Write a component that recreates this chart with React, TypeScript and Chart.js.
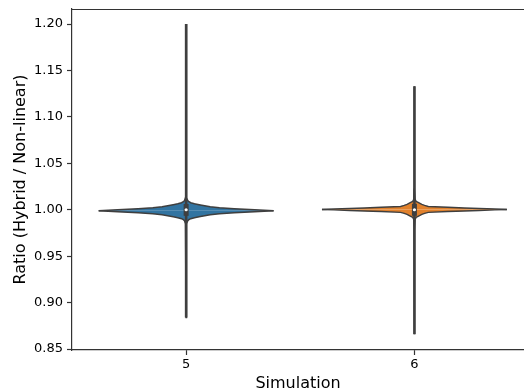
import React, { useEffect, useRef } from 'react';
import { Chart, registerables } from 'chart.js';

Chart.register(...registerables);

// ---- data ----
const categories = ['5', '6'];
const yTicks = [0.85, 0.9, 0.95, 1.0, 1.05, 1.1, 1.15, 1.2];

// violin outline: ratio values (ascending) and relative density (0..1)
const sim5Values = [
  0.884, 0.93, 0.97, 0.985, 0.9882, 0.9893, 0.9904, 0.9915, 0.9925, 0.9936, 0.9947, 0.9958, 0.9968, 0.9979,
  0.999,
  1.0001, 1.0012, 1.0022, 1.0033, 1.0044, 1.0055, 1.0065, 1.0076, 1.0087, 1.0098, 1.013, 1.03, 1.1, 1.2,
];
const sim5Density = [
  0, 0.003, 0.004, 0.007, 0.018, 0.03, 0.05, 0.09, 0.14, 0.2, 0.26, 0.36, 0.52, 0.74,
  0.946,
  0.74, 0.52, 0.36, 0.26, 0.2, 0.14, 0.09, 0.05, 0.03, 0.018, 0.007, 0.004, 0.003, 0,
];

const sim6Values = [
  0.866, 0.94, 0.979, 0.9896, 0.9918, 0.9929, 0.9939, 0.995, 0.9961, 0.9972, 0.9982, 0.9988, 0.9993, 0.9999,
  1.0004,
  1.0009, 1.0015, 1.002, 1.0026, 1.0036, 1.0047, 1.0058, 1.0069, 1.0079, 1.009, 1.0112, 1.022, 1.06, 1.133,
];
const sim6Density = [
  0, 0.003, 0.004, 0.007, 0.018, 0.04, 0.06, 0.08, 0.11, 0.15, 0.36, 0.54, 0.7, 0.87,
  1,
  0.87, 0.7, 0.54, 0.36, 0.15, 0.11, 0.08, 0.06, 0.04, 0.018, 0.007, 0.004, 0.003, 0,
];

// inner box: q1, median, q3
const sim5Box = [0.9935, 1.0, 1.0062];
const sim6Box = [0.9935, 1.0, 1.0065];

// ---- style ----
const FILLS = ['#3274a1', '#e1812c'];
const EDGE = '#3f3f3f';
const HALF = 0.405;
const FONT = 'DejaVu Sans';

type P = { x: number; y: number };

function violinHalves(pos: number, values: number[], density: number[]): [P[], P[]] {
  const peak = density.indexOf(Math.max(...density));
  const L = (i: number) => ({ x: pos - density[i] * HALF, y: values[i] });
  const R = (i: number) => ({ x: pos + density[i] * HALF, y: values[i] });
  const upper: P[] = [];
  const lower: P[] = [];
  for (let i = peak; i < values.length; i++) upper.push(L(i));
  for (let i = values.length - 1; i >= peak; i--) upper.push(R(i));
  for (let i = peak; i >= 0; i--) lower.push(L(i));
  for (let i = 0; i <= peak; i++) lower.push(R(i));
  return [upper, lower];
}

const topSpine = {
  id: 'topSpine',
  afterDraw(chart: any) {
    const { ctx, chartArea } = chart;
    ctx.save();
    ctx.strokeStyle = '#333';
    ctx.lineWidth = 1.2;
    ctx.beginPath();
    ctx.moveTo(chartArea.left, chartArea.top + 0.5);
    ctx.lineTo(chartArea.right, chartArea.top + 0.5);
    ctx.stroke();
    ctx.restore();
  },
};

const zeroPad = (axis: any) => {
  axis.paddingTop = 0;
  axis.paddingBottom = 0;
  axis.paddingLeft = 0;
  axis.paddingRight = 0;
};

export default function App() {
  const ref = useRef<HTMLCanvasElement | null>(null);

  useEffect(() => {
    if (!ref.current) return;
    const sims = [
      { values: sim5Values, density: sim5Density, box: sim5Box },
      { values: sim6Values, density: sim6Density, box: sim6Box },
    ];
    const datasets: any[] = [];
    sims.forEach((s, pos) => {
      const [upper, lower] = violinHalves(pos, s.values, s.density);
      [upper, lower].forEach((half) => {
        datasets.push({
          data: half,
          showLine: true,
          pointRadius: 0,
          fill: 'shape',
          backgroundColor: FILLS[pos],
          borderColor: EDGE,
          borderWidth: 1.5,
          order: 4,
        });
      });
      datasets.push({
        data: [
          { x: pos, y: s.values[0] },
          { x: pos, y: s.values[s.values.length - 1] },
        ],
        showLine: true,
        pointRadius: 0,
        borderColor: EDGE,
        borderWidth: 2.6,
        borderCapStyle: 'butt',
        fill: false,
        order: 3,
      });
      datasets.push({
        data: [
          { x: pos, y: s.box[0] },
          { x: pos, y: s.box[2] },
        ],
        showLine: true,
        pointRadius: 0,
        borderColor: EDGE,
        borderWidth: 5,
        borderCapStyle: 'butt',
        fill: false,
        order: 2,
      });
      datasets.push({
        data: [{ x: pos, y: s.box[1] }],
        showLine: false,
        pointRadius: 1.6,
        pointBackgroundColor: '#ffffff',
        pointBorderWidth: 0,
        order: 1,
      });
    });

    const chart = new Chart(ref.current, {
      type: 'scatter',
      data: { datasets },
      plugins: [topSpine],
      options: {
        animation: false,
        responsive: true,
        maintainAspectRatio: false,
        events: [],
        layout: { autoPadding: false, padding: { top: 9, right: 0, bottom: 0, left: 0 } },
        plugins: { legend: { display: false }, tooltip: { enabled: false } },
        scales: {
          x: {
            type: 'linear',
            min: -0.5,
            max: 1.48,
            afterBuildTicks: (axis: any) => {
              axis.ticks = categories.map((_, i) => ({ value: i }));
            },
            afterFit: (axis: any) => {
              axis.height = 41;
              zeroPad(axis);
            },
            grid: { drawOnChartArea: false, drawTicks: true, tickLength: 5, tickColor: '#333', tickWidth: 1.2 },
            border: { color: '#333', width: 1.2 },
            ticks: {
              color: '#000',
              padding: 2,
              maxRotation: 0,
              autoSkip: false,
              font: { family: FONT, size: 13 },
              callback: (v: any) => categories[Math.round(Number(v))],
            },
            title: {
              display: true,
              text: 'Simulation',
              color: '#000',
              font: { family: FONT, size: 16, lineHeight: 1 },
              padding: { top: 0, bottom: -1 },
            },
          },
          y: {
            type: 'linear',
            min: 0.849,
            max: 1.2162,
            afterBuildTicks: (axis: any) => {
              axis.ticks = yTicks.map((v) => ({ value: v }));
            },
            afterFit: (axis: any) => {
              axis.width = 72;
              zeroPad(axis);
            },
            grid: { drawOnChartArea: false, drawTicks: true, tickLength: 5, tickColor: '#333', tickWidth: 1.2 },
            border: { color: '#333', width: 1.2 },
            ticks: {
              color: '#000',
              padding: 4,
              autoSkip: false,
              font: { family: FONT, size: 13 },
              callback: (v: any) => Number(v).toFixed(2),
            },
            title: {
              display: true,
              text: 'Ratio (Hybrid / Non-linear)',
              color: '#000',
              font: { family: FONT, size: 16 },
              padding: { top: 11, bottom: 0 },
            },
          },
        },
      },
    });
    return () => chart.destroy();
  }, []);

  return (
    <div style={{ position: 'fixed', left: 0, top: 0, width: 524, height: 391, background: '#fff' }}>
      <canvas ref={ref} />
    </div>
  );
}
